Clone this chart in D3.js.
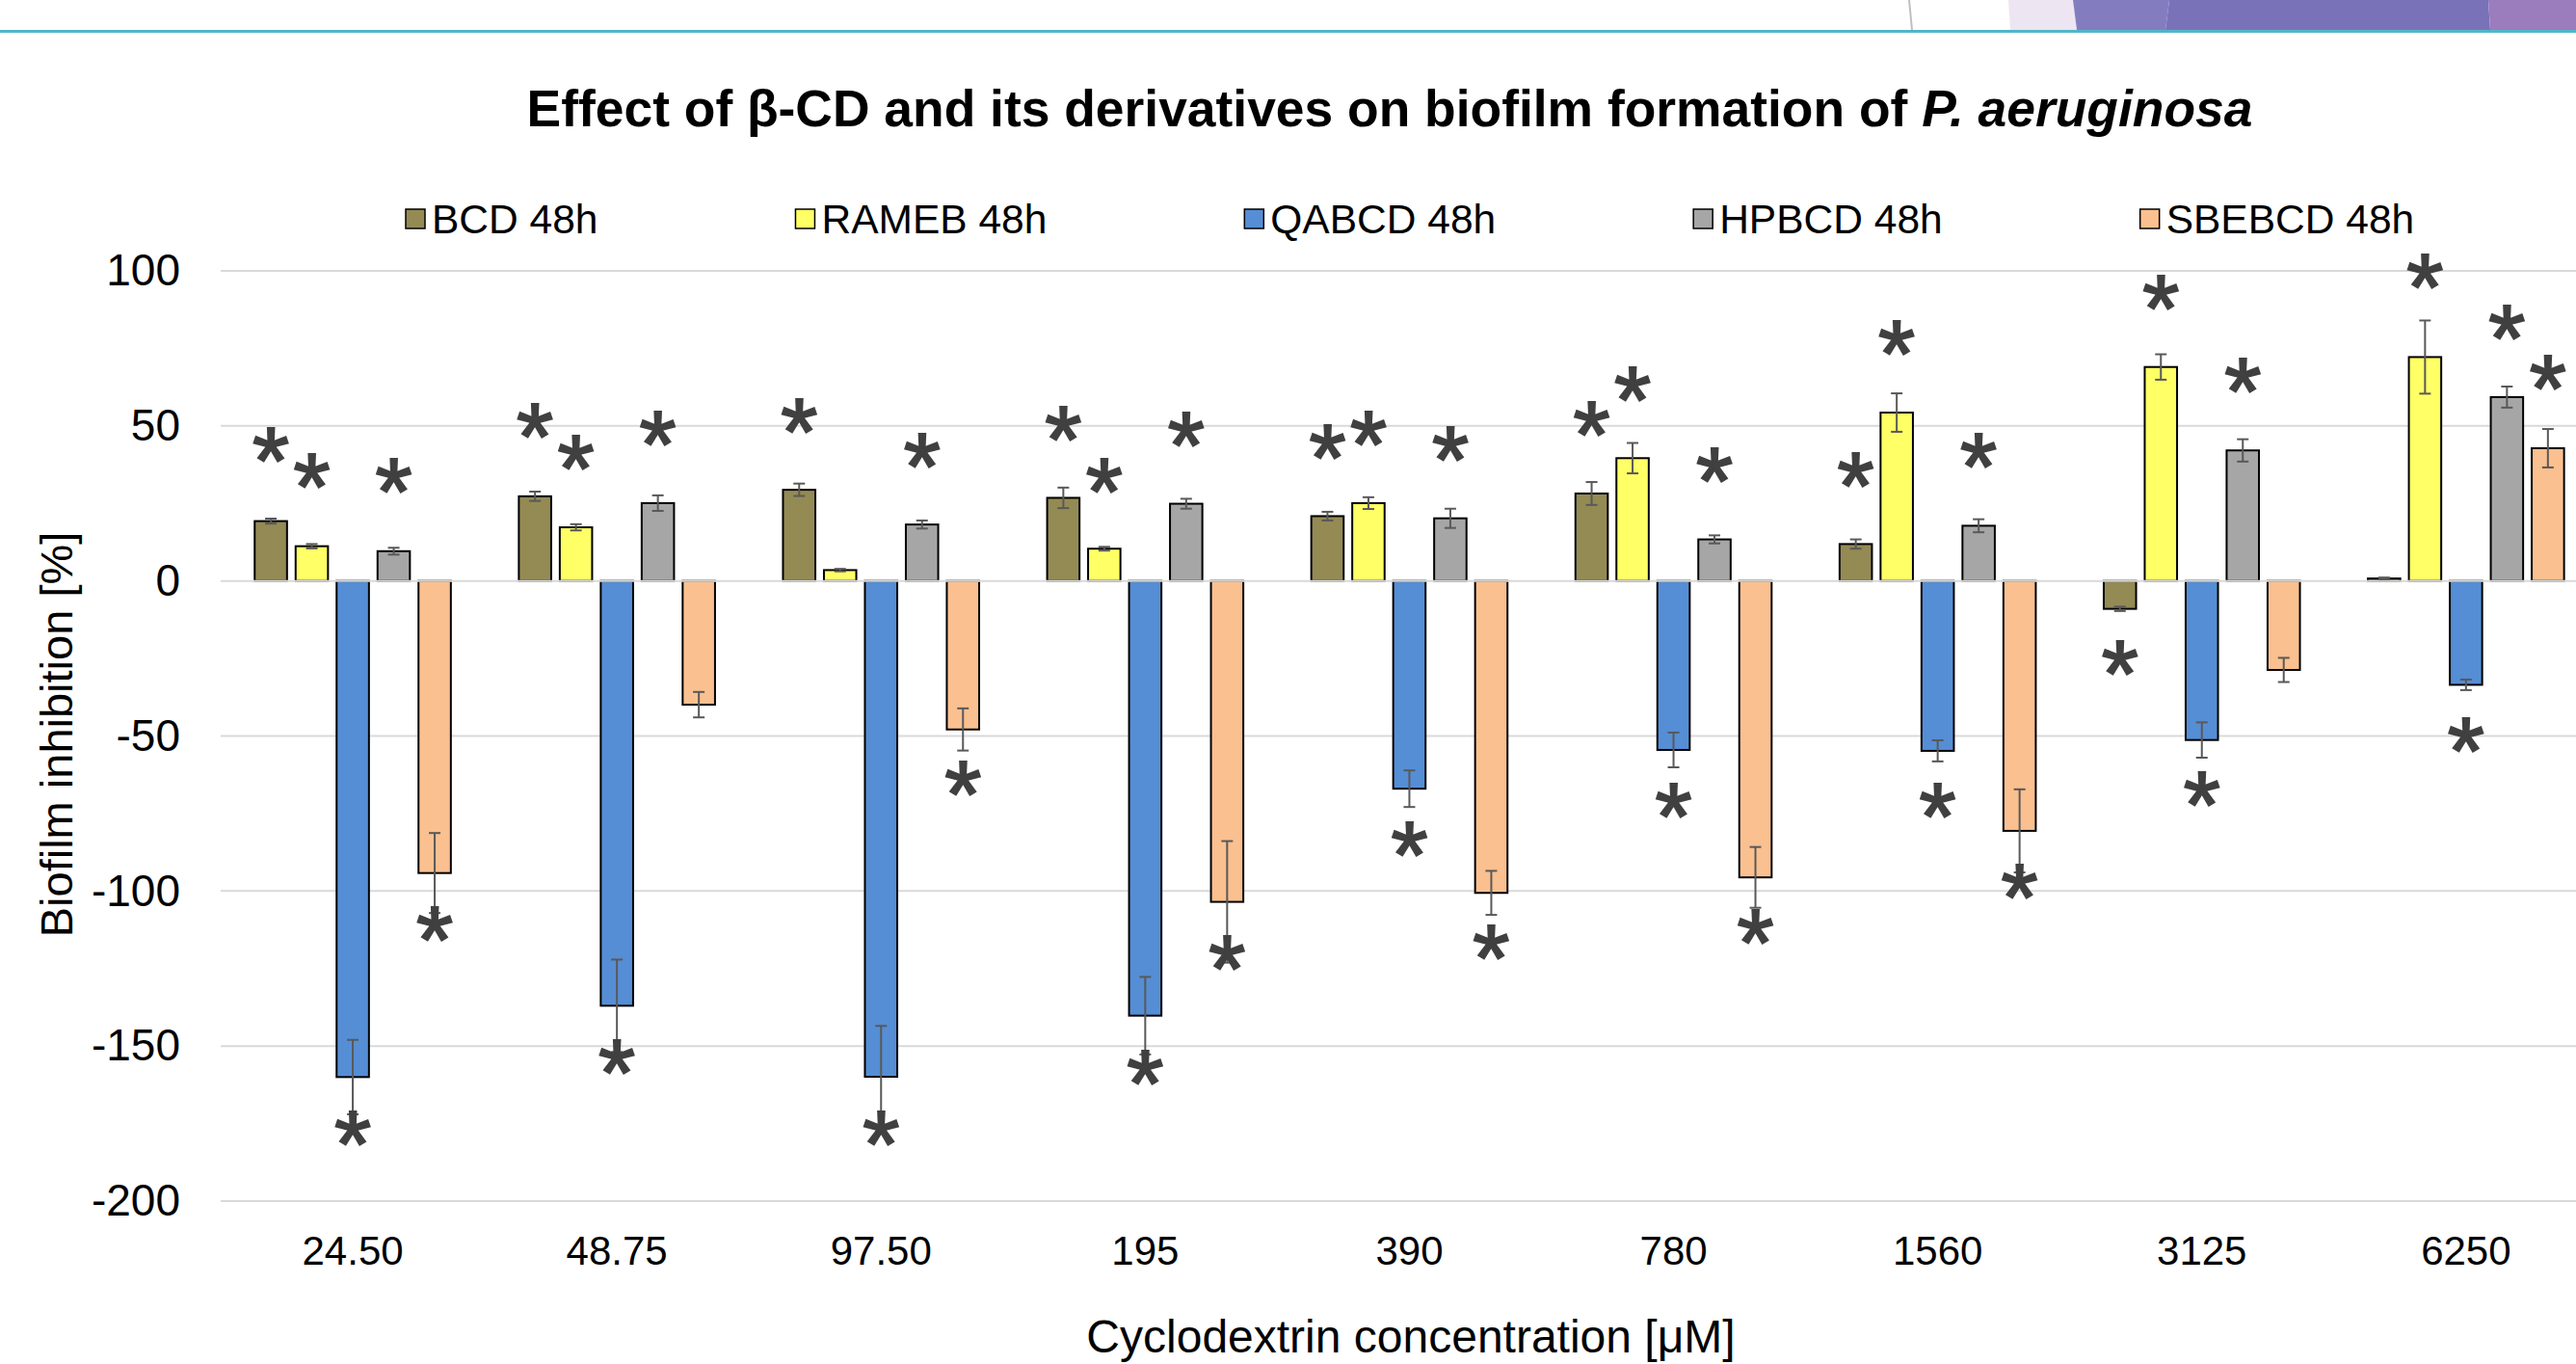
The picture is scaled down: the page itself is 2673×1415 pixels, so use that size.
<!DOCTYPE html>
<html>
<head>
<meta charset="utf-8">
<script src="https://cdn.jsdelivr.net/npm/d3@7"></script>
<style>
  html, body { margin: 0; padding: 0; background: #fff; }
  svg { display: block; font-family: "Liberation Sans", Arial, sans-serif; }
</style>
</head>
<body>
<svg id="chart" width="2673" height="1415"></svg>
<script>
// categories on the x axis (cyclodextrin concentration, uM)
var categories = ["24.50", "48.75", "97.50", "195", "390", "780", "1560", "3125", "6250"];
var seriesNames = ["BCD 48h", "RAMEB 48h", "QABCD 48h", "HPBCD 48h", "SBEBCD 48h"];
var yTicks = [100, 50, 0, -50, -100, -150, -200];

// biofilm inhibition [%], error bars, and where the significance star sits (null = none)
var bcd      = [19.3, 27.3, 29.4, 26.8, 20.9, 28.2, 11.9, -9.0, 0.8];
var bcdErr   = [0.8, 1.5, 2.0, 3.3, 1.4, 3.7, 1.5, 0.7, 0.3];
var bcdStar  = [43.9, 51.7, 53.4, 50.8, 45.0, 52.5, 36.0, -24.8, null];

var rameb     = [11.2, 17.3, 3.5, 10.4, 25.1, 39.6, 54.3, 69.0, 72.2];
var ramebErr  = [0.7, 1.0, 0.4, 0.6, 1.9, 4.9, 6.2, 4.1, 11.8];
var ramebStar = [35.6, 41.5, null, 34.2, 49.2, 63.7, 78.6, 93.1, 99.9];

var qabcd     = [-160.0, -137.0, -159.9, -140.2, -67.0, -54.5, -54.8, -51.3, -33.5];
var qabcdErr  = [12.0, 14.9, 16.4, 12.5, 5.9, 5.6, 3.4, 5.7, 1.7];
var qabcdStar = [-176.3, -153.3, -176.3, -156.7, -83.2, -70.6, -70.7, -67.1, -49.4];

var hpbcd     = [9.6, 25.1, 18.2, 24.9, 20.2, 13.4, 17.8, 42.1, 59.3];
var hpbcdErr  = [1.1, 2.5, 1.3, 1.6, 3.1, 1.3, 2.1, 3.6, 3.4];
var hpbcdStar = [34.0, 49.3, 42.1, 48.9, 44.2, 37.4, 42.1, 66.4, 83.5];

var sbebcd     = [-94.2, -39.9, -47.9, -103.5, -100.6, -95.6, -80.6, -28.7, 42.8];
var sbebcdErr  = [12.9, 4.1, 6.8, 19.6, 7.1, 9.8, 13.4, 3.9, 6.2];
var sbebcdStar = [-110.5, null, -63.6, -119.8, -116.5, -111.4, -96.7, null, 67.2];

var colors = ["#948A54", "#FFFF66", "#558ED5", "#A6A6A6", "#FAC090"];

var series = [
  {name: seriesNames[0], values: bcd, errs: bcdErr, stars: bcdStar},
  {name: seriesNames[1], values: rameb, errs: ramebErr, stars: ramebStar},
  {name: seriesNames[2], values: qabcd, errs: qabcdErr, stars: qabcdStar},
  {name: seriesNames[3], values: hpbcd, errs: hpbcdErr, stars: hpbcdStar},
  {name: seriesNames[4], values: sbebcd, errs: sbebcdErr, stars: sbebcdStar}
];

var color = d3.scaleOrdinal().domain(seriesNames).range(colors);

// flatten to one record per bar
var bars = [];
series.forEach(function(s) {
  categories.forEach(function(c, i) {
    bars.push({cat: c, name: s.name, value: s.values[i], err: s.errs[i], star: s.stars[i]});
  });
});

var svg = d3.select("#chart");
var W = 2673, H = 1415;

svg.append("rect").attr("width", W).attr("height", H).attr("fill", "#fff");

// slide decoration along the top edge
var deco = svg.append("g");
deco.append("line").attr("x1", 1981).attr("y1", 0).attr("x2", 1984).attr("y2", 31)
  .attr("stroke", "#BFBFBF").attr("stroke-width", 2);
deco.append("polygon").attr("points", "2084,0 2151,0 2155,31 2086,31").attr("fill", "#EDE6F2");
deco.append("polygon").attr("points", "2151,0 2251,0 2247,31 2155,31").attr("fill", "#837DC0");
deco.append("polygon").attr("points", "2251,0 2582,0 2584,31 2247,31").attr("fill", "#7A72B9");
deco.append("polygon").attr("points", "2582,0 2673,0 2673,31 2584,31").attr("fill", "#9B7DBE");
deco.append("rect").attr("x", 0).attr("y", 31).attr("width", W).attr("height", 3).attr("fill", "#52B6CA");

var plotLeft = 229, plotTop = 281, plotBottom = 1246;
var groupStep = 274.1;

var y = d3.scaleLinear().domain([-200, 100]).range([plotBottom, plotTop]);
var x0 = d3.scaleBand().domain(categories).range([plotLeft, plotLeft + groupStep * categories.length]);
var x1 = d3.scaleBand().domain(seriesNames).range([0, x0.bandwidth()])
  .paddingInner(0.21).paddingOuter(0.83);

// gridlines
svg.append("g").selectAll("line")
  .data(yTicks.filter(function(d) { return d !== 0; }))
  .enter().append("line")
    .attr("x1", plotLeft).attr("x2", W)
    .attr("y1", function(d) { return y(d); })
    .attr("y2", function(d) { return y(d); })
    .attr("stroke", "#D9D9D9").attr("stroke-width", 2);

// y axis labels (plain hyphen for negatives, as in the source)
var yAxis = svg.append("g")
  .attr("transform", "translate(" + plotLeft + ",0)")
  .call(d3.axisLeft(y).tickValues(yTicks).tickSize(0).tickPadding(42)
    .tickFormat(function(d) { return String(d); }));
yAxis.select(".domain").remove();
yAxis.selectAll("text")
  .attr("font-family", "Liberation Sans, Arial, sans-serif")
  .attr("font-size", 46).attr("fill", "#000");

// x axis labels
var xAxis = svg.append("g")
  .attr("transform", "translate(0," + plotBottom + ")")
  .call(d3.axisBottom(x0).tickSize(0).tickPadding(36));
xAxis.select(".domain").remove();
xAxis.selectAll("text")
  .attr("font-family", "Liberation Sans, Arial, sans-serif")
  .attr("font-size", 42).attr("fill", "#000");

// bars
svg.append("g").selectAll("rect")
  .data(bars)
  .enter().append("rect")
    .attr("x", function(d) { return x0(d.cat) + x1(d.name); })
    .attr("width", x1.bandwidth())
    .attr("y", function(d) { return y(Math.max(0, d.value)); })
    .attr("height", function(d) { return Math.abs(y(d.value) - y(0)); })
    .attr("fill", function(d) { return color(d.name); })
    .attr("stroke", "#000").attr("stroke-width", 2);

// zero line over the bar bases
svg.append("line")
  .attr("x1", plotLeft).attr("x2", W)
  .attr("y1", y(0)).attr("y2", y(0))
  .attr("stroke", "#D9D9D9").attr("stroke-width", 2);

// error bars
var eb = svg.append("g").attr("stroke", "#595959").attr("stroke-width", 2);
var cap = 6;
bars.forEach(function(d) {
  var cx = x0(d.cat) + x1(d.name) + x1.bandwidth() / 2;
  var lo = y(d.value - d.err), hi = y(d.value + d.err);
  eb.append("line").attr("x1", cx).attr("x2", cx).attr("y1", lo).attr("y2", hi);
  eb.append("line").attr("x1", cx - cap).attr("x2", cx + cap).attr("y1", lo).attr("y2", lo);
  eb.append("line").attr("x1", cx - cap).attr("x2", cx + cap).attr("y1", hi).attr("y2", hi);
});

// significance stars
svg.append("g").selectAll("text")
  .data(bars.filter(function(d) { return d.star !== null; }))
  .enter().append("text")
    .attr("x", function(d) { return x0(d.cat) + x1(d.name) + x1.bandwidth() / 2; })
    .attr("y", function(d) { return y(d.star); })
    .attr("dy", "0.52em")
    .attr("text-anchor", "middle")
    .attr("font-size", 98)
    .attr("fill", "#404040")
    .attr("stroke", "#404040").attr("stroke-width", 2)
    .text("*");

// title
var title = svg.append("text")
  .attr("x", 1442).attr("y", 131)
  .attr("text-anchor", "middle")
  .attr("font-size", 53.4).attr("font-weight", "bold").attr("fill", "#000");
title.append("tspan").text("Effect of \u03B2-CD and its derivatives on biofilm formation of ");
title.append("tspan").attr("font-style", "italic").text("P. aeruginosa");

// legend
var legend = svg.append("g");
var lx = 421;
seriesNames.forEach(function(name) {
  legend.append("rect")
    .attr("x", lx).attr("y", 217).attr("width", 20).attr("height", 20)
    .attr("fill", color(name)).attr("stroke", "#000").attr("stroke-width", 1.5);
  var t = legend.append("text")
    .attr("x", lx + 27).attr("y", 242)
    .attr("font-size", 42.5).attr("fill", "#000")
    .text(name);
  lx = lx + 27 + t.node().getComputedTextLength() + 205;
});

// axis titles
svg.append("text")
  .attr("transform", "translate(75,762) rotate(-90)")
  .attr("text-anchor", "middle")
  .attr("font-size", 47).attr("fill", "#000")
  .text("Biofilm inhibition [%]");

svg.append("text")
  .attr("x", 1464).attr("y", 1403)
  .attr("text-anchor", "middle")
  .attr("font-size", 48).attr("fill", "#000")
  .text("Cyclodextrin concentration [\u03BCM]");
</script>
</body>
</html>
